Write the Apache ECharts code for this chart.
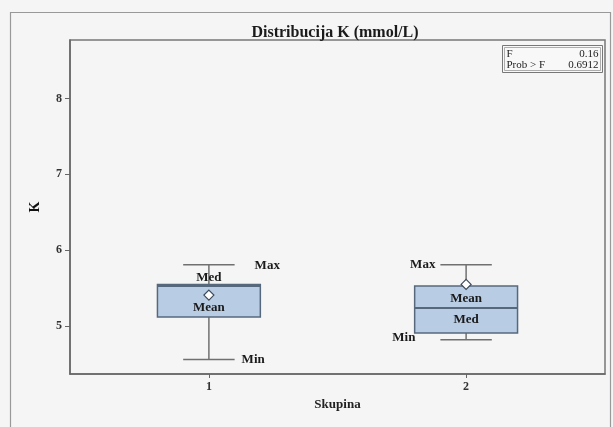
<!DOCTYPE html>
<html>
<head>
<meta charset="utf-8">
<script src="https://cdn.jsdelivr.net/npm/echarts@6/dist/echarts.min.js"></script>
<style>
html,body{margin:0;padding:0;background:#f5f5f5;}
#c{width:613px;height:427px;}
</style>
</head>
<body>
<div id="c"></div>
<script>
// ---- data ----
var categories = [1, 2];
var minVals  = [4.56, 4.82];
var q1Vals   = [5.12, 4.91];
var medVals  = [5.53, 5.24];
var q3Vals   = [5.55, 5.53];
var maxVals  = [5.81, 5.81];
var meanVals = [5.41, 5.55];
var yTicks = [5, 6, 7, 8];
var xTicks = [1, 2];
var statF = '0.16';
var statP = '0.6912';

// ---- styling ----
var SERIF = '"Liberation Serif", "DejaVu Serif", serif';
var boxFill = '#b8cce4';
var boxStroke = '#56687c';
var whiskerColor = '#707070';
var BOXW = 0.40, CAPW = 0.20;
// label placements per group: side ('R' = right of cap, 'L' = left of cap), dx, dy
var labelCfg = [
  { max: ['R', 20, 1], min: ['R', 7, 0], med: [0, -8], mean: [0, 13] },
  { max: ['L', -5, 0], min: ['L', -25, -2], med: [0, 12], mean: [0, 14] }
];

var data = categories.map(function (c, i) {
  return [c, minVals[i], q1Vals[i], medVals[i], q3Vals[i], maxVals[i], meanVals[i]];
});

function renderItem(params, api) {
  var i = params.dataIndex;
  var x = api.value(0);
  var pMin = api.coord([x, api.value(1)]);
  var pQ1 = api.coord([x, api.value(2)]);
  var pMed = api.coord([x, api.value(3)]);
  var pQ3 = api.coord([x, api.value(4)]);
  var pMax = api.coord([x, api.value(5)]);
  var pMean = api.coord([x, api.value(6)]);
  var bw = api.size([BOXW, 0])[0];
  var cw = api.size([CAPW, 0])[0];
  var cx = pMed[0];
  var cfg = labelCfg[i];
  var lineStyle = { stroke: whiskerColor, lineWidth: 1.5 };
  var capL = cx - cw / 2, capR = cx + cw / 2;
  function txt(t, px, py, align) {
    return {
      type: 'text',
      style: { text: t, x: px, y: py, align: align, verticalAlign: 'middle',
        font: 'bold 13px ' + SERIF, fill: '#1a1a1a' },
      z2: 20
    };
  }
  function sideLabel(t, c, py) {
    if (c[0] === 'R') return txt(t, capR + c[1], py + c[2], 'left');
    return txt(t, capL + c[1], py + c[2], 'right');
  }
  return {
    type: 'group',
    children: [
      { type: 'line', shape: { x1: cx, y1: pMax[1], x2: cx, y2: pQ3[1] }, style: lineStyle },
      { type: 'line', shape: { x1: cx, y1: pQ1[1], x2: cx, y2: pMin[1] }, style: lineStyle },
      { type: 'line', shape: { x1: capL, y1: pMax[1], x2: capR, y2: pMax[1] }, style: lineStyle },
      { type: 'line', shape: { x1: capL, y1: pMin[1], x2: capR, y2: pMin[1] }, style: lineStyle },
      { type: 'rect', shape: { x: cx - bw / 2, y: pQ3[1], width: bw, height: pQ1[1] - pQ3[1] },
        style: { fill: boxFill, stroke: boxStroke, lineWidth: 1.5 } },
      { type: 'line', shape: { x1: cx - bw / 2, y1: pMed[1], x2: cx + bw / 2, y2: pMed[1] },
        style: { stroke: boxStroke, lineWidth: 2 } },
      { type: 'polygon', shape: { points: [[cx, pMean[1] - 5], [cx + 5, pMean[1]], [cx, pMean[1] + 5], [cx - 5, pMean[1]]] },
        style: { fill: '#ffffff', stroke: '#3c4a5a', lineWidth: 1.2 }, z2: 15 },
      sideLabel('Max', cfg.max, pMax[1]),
      sideLabel('Min', cfg.min, pMin[1]),
      txt('Med', cx + cfg.med[0], pMed[1] + cfg.med[1], 'center'),
      txt('Mean', cx + cfg.mean[0], pMean[1] + cfg.mean[1], 'center')
    ]
  };
}

var chart = echarts.init(document.getElementById('c'), null, { renderer: 'canvas' });
chart.setOption({
  backgroundColor: '#f5f5f5',
  animation: false,
  title: {
    text: 'Distribucija K (mmol/L)',
    left: 330, top: 20, textAlign: 'center',
    textStyle: { fontFamily: SERIF, fontWeight: 'bold', fontSize: 16, color: '#1a1a1a' }
  },
  grid: { left: 70, right: 8, top: 40, bottom: 53, show: true, borderColor: '#777', borderWidth: 1.5, backgroundColor: '#f5f5f5' },
  xAxis: {
    type: 'value', min: 0.46, max: 2.54,
    name: 'Skupina', nameLocation: 'middle', nameGap: 23,
    nameTextStyle: { fontFamily: SERIF, fontWeight: 'bold', fontSize: 13, color: '#222' },
    axisLine: { show: true, lineStyle: { color: '#666', width: 1.5 } },
    splitLine: { show: false },
    axisTick: { show: true, length: 4, customValues: xTicks, lineStyle: { color: '#666' } },
    axisLabel: { customValues: xTicks, fontFamily: SERIF, fontWeight: 'bold', fontSize: 12, color: '#333', margin: 7 }
  },
  yAxis: {
    type: 'value', min: 4.37, max: 8.77,
    name: 'K', nameLocation: 'middle', nameGap: 28, nameRotate: 90,
    nameTextStyle: { fontFamily: SERIF, fontWeight: 'bold', fontSize: 14, color: '#111' },
    axisLine: { show: true, lineStyle: { color: '#666', width: 1.5 } },
    splitLine: { show: false },
    axisTick: { show: true, length: 5, customValues: yTicks, lineStyle: { color: '#666' } },
    axisLabel: { customValues: yTicks, fontFamily: SERIF, fontWeight: 'bold', fontSize: 12, color: '#333', margin: 8 }
  },
  graphic: [
    { type: 'rect', left: 8, top: 10, shape: { width: 600, height: 430 }, silent: true,
      style: { fill: 'none', stroke: '#999', lineWidth: 1.2 } },
    { type: 'group', left: 502, top: 45, children: [
      { type: 'rect', shape: { x: 0, y: 0, width: 100, height: 27 }, style: { fill: '#f8f8f8', stroke: '#777', lineWidth: 1 } },
      { type: 'rect', shape: { x: 2, y: 2, width: 96, height: 23 }, style: { fill: 'none', stroke: '#999', lineWidth: 0.8 } },
      { type: 'text', style: { text: 'F', x: 4, y: 8.5, verticalAlign: 'middle', font: '11px ' + SERIF, fill: '#222' } },
      { type: 'text', style: { text: statF, x: 96, y: 8.5, align: 'right', verticalAlign: 'middle', font: '11px ' + SERIF, fill: '#222' } },
      { type: 'text', style: { text: 'Prob > F', x: 4, y: 19.5, verticalAlign: 'middle', font: '11px ' + SERIF, fill: '#222' } },
      { type: 'text', style: { text: statP, x: 96, y: 19.5, align: 'right', verticalAlign: 'middle', font: '11px ' + SERIF, fill: '#222' } }
    ] }
  ],
  series: [{
    type: 'custom',
    renderItem: renderItem,
    encode: { x: 0, y: [1, 2, 3, 4, 5, 6] },
    data: data,
    clip: false
  }]
});
</script>
</body>
</html>
